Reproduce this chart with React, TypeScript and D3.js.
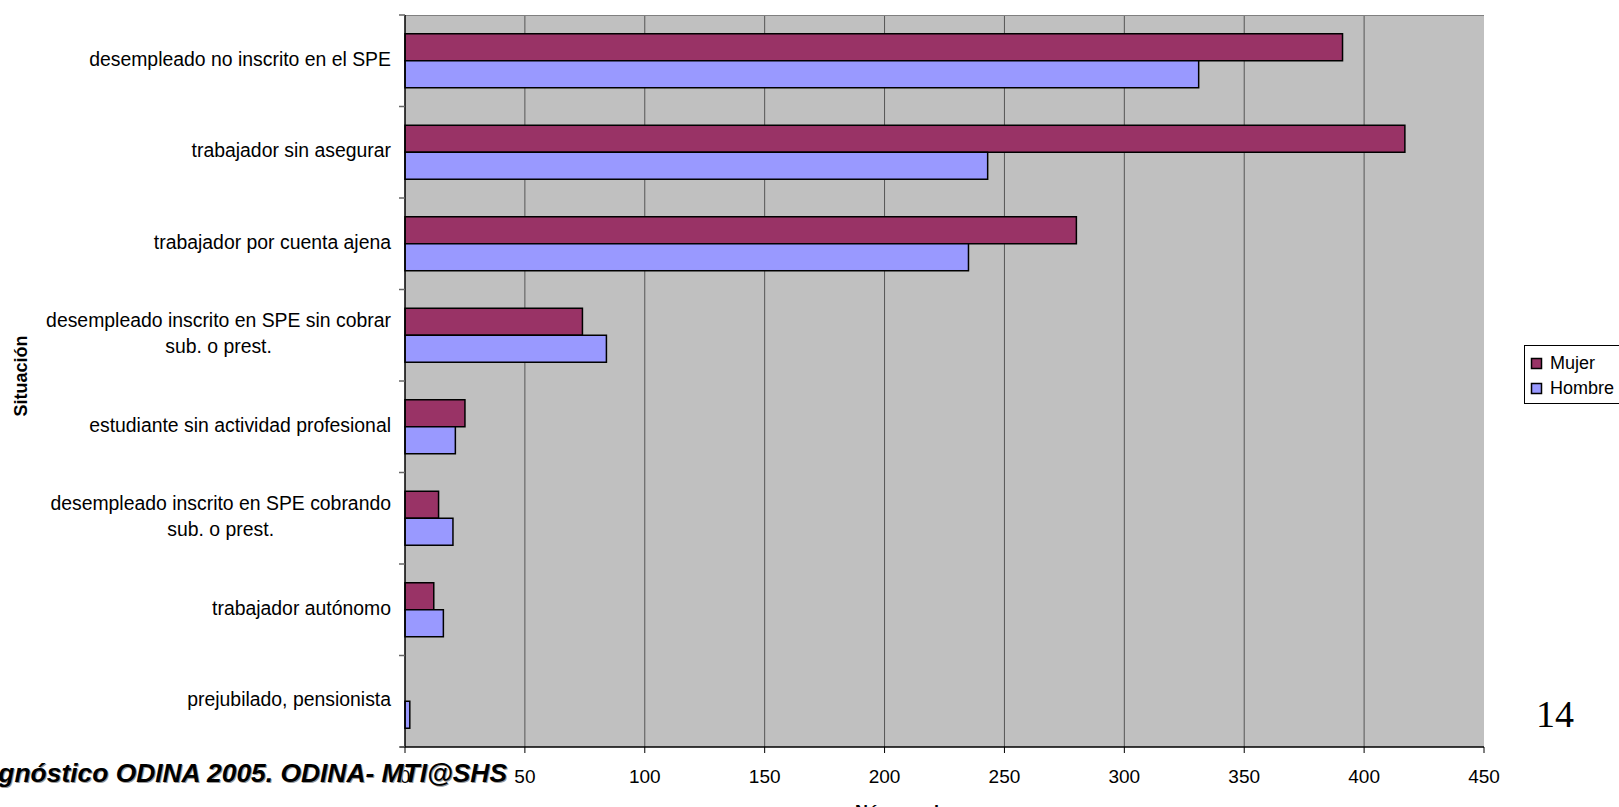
import React, { useEffect } from "react";
import * as d3 from "d3";

const categories: string[][] = [
  ["desempleado no inscrito en el SPE"],
  ["trabajador sin asegurar"],
  ["trabajador por cuenta ajena"],
  ["desempleado inscrito en SPE sin cobrar", "sub. o prest."],
  ["estudiante sin actividad profesional"],
  ["desempleado inscrito en SPE cobrando", "sub. o prest."],
  ["trabajador autónomo"],
  ["prejubilado, pensionista"],
];
const mujer = [391, 417, 280, 74, 25, 14, 12, 0];
const hombre = [331, 243, 235, 84, 21, 20, 16, 2];
const seriesNames = ["Mujer", "Hombre"];
const seriesColors = ["#993366", "#9999FF"];
const xTicks = [0, 50, 100, 150, 200, 250, 300, 350, 400, 450];

const W = 1619;
const H = 807;
const L = 405, R = 1484, T = 15, B = 747;
const FONT = "'Liberation Sans', Arial, sans-serif";

function measure(text: string, font: string): number {
  const c = document.createElement("canvas");
  const ctx = c.getContext("2d")!;
  ctx.font = font;
  return ctx.measureText(text).width;
}

export default function App() {
  useEffect(() => {
    document.body.style.margin = "0";
  }, []);

  const x = d3.scaleLinear().domain([0, 450]).range([L, R]);
  const y = d3.scaleBand<number>().domain(d3.range(categories.length)).range([T, B]).paddingInner(0).paddingOuter(0);
  const band = y.bandwidth();
  const groupFrac = 0.59;
  const barH = (band * groupFrac) / 2;
  const series = [mujer, hombre];

  const labelRight = 391;
  const labelSize = 19.4;
  const labelFont = `${labelSize}px ${FONT}`;

  return (
    <svg width={W} height={H} style={{ display: "block", background: "#fff" }} fontFamily={FONT}>
      <rect x={L} y={T} width={R - L} height={B - T} fill="#C0C0C0" />
      {xTicks.slice(1, -1).map((t) => (
        <line key={"g" + t} x1={x(t)} x2={x(t)} y1={T} y2={B} stroke="#555" strokeWidth={1} />
      ))}
      <line x1={L} x2={R} y1={T + 0.5} y2={T + 0.5} stroke="#808080" strokeWidth={1} />
      {series.map((vals, si) =>
        vals.map((v, i) => {
          const y0 = (y(i) as number) + (band - 2 * barH) / 2 + si * barH;
          if (v <= 0) return null;
          return (
            <rect
              key={`b${si}-${i}`}
              x={x(0)}
              y={y0}
              width={x(v) - x(0)}
              height={barH}
              fill={seriesColors[si]}
              stroke="#000"
              strokeWidth={1.5}
            />
          );
        })
      )}
      {/* axes */}
      <line x1={L} x2={L} y1={T} y2={B} stroke="#000" strokeWidth={1.5} />
      <line x1={L - 5} x2={R} y1={B} y2={B} stroke="#000" strokeWidth={1.5} />
      {d3.range(categories.length + 1).map((i) => {
        const yy = T + i * band;
        return <line key={"yt" + i} x1={L - 6} x2={L} y1={yy} y2={yy} stroke="#666" strokeWidth={1.5} />;
      })}
      {xTicks.map((t) => (
        <g key={"xt" + t}>
          <line x1={x(t)} x2={x(t)} y1={B} y2={B + 6} stroke="#000" strokeWidth={1} />
          <text x={x(t)} y={783} textAnchor="middle" fontSize={19} fill="#000">
            {t}
          </text>
        </g>
      ))}
      {categories.map((lines, i) => {
        const cy = (y(i) as number) + band / 2;
        const maxW = Math.max(...lines.map((l) => measure(l, labelFont)));
        const cx = labelRight - maxW / 2;
        const lh = 26;
        const startY = cy - ((lines.length - 1) * lh) / 2 + 5;
        return (
          <text key={"cl" + i} x={cx} textAnchor="middle" fontSize={labelSize} fill="#000">
            {lines.map((l, j) => (
              <tspan key={j} x={cx} y={startY + j * lh}>
                {l}
              </tspan>
            ))}
          </text>
        );
      })}
      <text
        transform={`translate(27, 376) rotate(-90)`}
        textAnchor="middle"
        fontSize={18}
        fontWeight="bold"
        fill="#000"
      >
        Situación
      </text>
      <text x={(L + R) / 2} y={818} textAnchor="middle" fontSize={18} fontWeight="bold" fill="#000">
        Número de personas
      </text>
      {/* legend */}
      <rect x={1524.5} y={345.5} width={100} height={58} fill="#fff" stroke="#000" strokeWidth={1} />
      {seriesNames.map((n, i) => (
        <g key={"lg" + n}>
          <rect x={1531.5} y={358.5 + i * 25} width={10} height={10} fill={seriesColors[i]} stroke="#000" strokeWidth={1.5} />
          <text x={1550} y={369 + i * 25} fontSize={18} fill="#000">
            {n}
          </text>
        </g>
      ))}
      <text x={1536} y={727} fontSize={38} fontFamily="'Liberation Serif', 'Times New Roman', serif" fill="#000">
        14
      </text>
      <text
        x={507}
        y={782}
        textAnchor="end"
        fontSize={26.4}
        fontWeight="bold"
        fontStyle="italic"
        fill="#000"
        style={{ textShadow: "1px 1px 0 #999" }}
      >
        Diagnóstico ODINA 2005. ODINA- MTI@SHS
      </text>
    </svg>
  );
}
